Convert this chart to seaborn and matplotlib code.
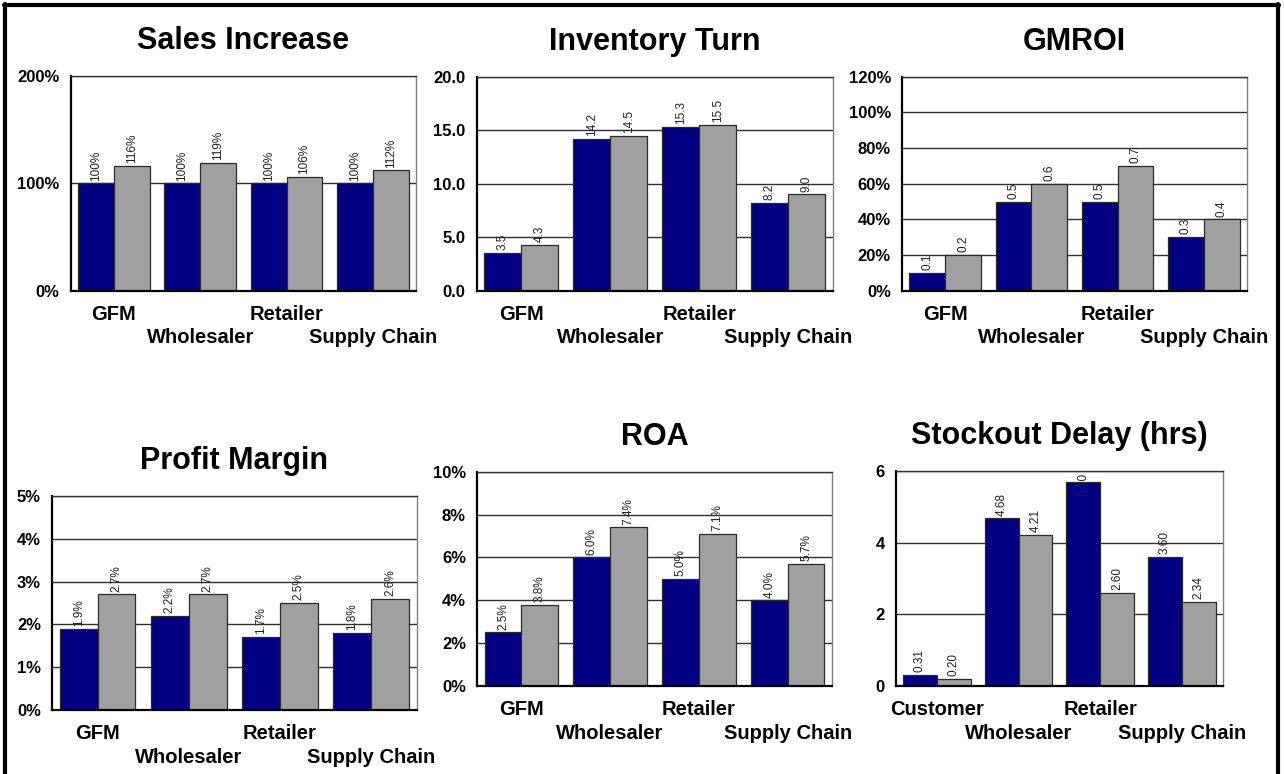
import matplotlib
matplotlib.use("Agg")
import matplotlib.pyplot as plt
from matplotlib.lines import Line2D
from matplotlib.ticker import FuncFormatter, MultipleLocator
import numpy as np
import pandas as pd
import seaborn as sns

sns.set_theme(style="white")
plt.rcParams["font.family"] = ["Liberation Sans", "DejaVu Sans"]

# ---- data -------------------------------------------------------------
stages = ["GFM", "Wholesaler", "Retailer", "Supply Chain"]
stages_delay = ["Customer", "Wholesaler", "Retailer", "Supply Chain"]
scenarios = ["Before", "After"]

sales_before = [100, 100, 100, 100]
sales_after = [116, 119, 106, 112]

turn_before = [3.5, 14.2, 15.3, 8.2]
turn_after = [4.3, 14.5, 15.5, 9.0]

gmroi_before = [0.1, 0.5, 0.5, 0.3]
gmroi_after = [0.2, 0.6, 0.7, 0.4]

margin_before = [1.9, 2.2, 1.7, 1.8]
margin_after = [2.7, 2.7, 2.5, 2.6]

roa_before = [2.5, 6.0, 5.0, 4.0]
roa_after = [3.8, 7.4, 7.1, 5.7]

delay_before = [0.31, 4.68, 5.70, 3.60]
delay_after = [0.20, 4.21, 2.60, 2.34]

# ---- styling ------------------------------------------------------------
W, H = 1284, 774
NAVY = "#000080"
GREY = "#A0A0A0"
EDGE = "#2a2a2a"

panels = [
    dict(title="Sales Increase", cats=stages, b=sales_before, a=sales_after,
         ylim=(0, 200), step=100, tick_fmt=lambda v: f"{v:.0f}%",
         lab_fmt=lambda v: f"{v:.0f}%", box=(70.7, 76, 416, 290.7)),
    dict(title="Inventory Turn", cats=stages, b=turn_before, a=turn_after,
         ylim=(0, 20), step=5, tick_fmt=lambda v: f"{v:.1f}",
         lab_fmt=lambda v: f"{v:.1f}", box=(476.7, 76.7, 832.7, 290.7)),
    dict(title="GMROI", cats=stages, b=gmroi_before, a=gmroi_after,
         ylim=(0, 1.2), step=0.2, tick_fmt=lambda v: f"{v * 100:.0f}%",
         lab_fmt=lambda v: f"{v:.1f}", box=(902, 76.7, 1247, 290.7)),
    dict(title="Profit Margin", cats=stages, b=margin_before, a=margin_after,
         ylim=(0, 5), step=1, tick_fmt=lambda v: f"{v:.0f}%",
         lab_fmt=lambda v: f"{v:.1f}%", box=(52, 496, 416.7, 710)),
    dict(title="ROA", cats=stages, b=roa_before, a=roa_after,
         ylim=(0, 10), step=2, tick_fmt=lambda v: f"{v:.0f}%",
         lab_fmt=lambda v: f"{v:.1f}%", box=(477, 471.7, 832, 686)),
    dict(title="Stockout Delay (hrs)", cats=stages_delay, b=delay_before,
         a=delay_after, ylim=(0, 6), step=2, tick_fmt=lambda v: f"{v:.0f}",
         lab_fmt=lambda v: f"{v:.2f}", box=(896, 471, 1222.7, 686)),
]

fig = plt.figure(figsize=(W / 100, H / 100), dpi=100)
fig.patch.set_facecolor("white")

label_texts = []
for p in panels:
    x0, y0, x1, y1 = p["box"]
    ax = fig.add_axes([x0 / W, 1 - y1 / H, (x1 - x0) / W, (y1 - y0) / H])

    df = pd.DataFrame({
        "stage": p["cats"] * 2,
        "scenario": [scenarios[0]] * 4 + [scenarios[1]] * 4,
        "value": list(p["b"]) + list(p["a"]),
    })
    sns.barplot(data=df, x="stage", y="value", hue="scenario",
                order=p["cats"], hue_order=scenarios,
                palette=[NAVY, GREY], width=0.83, saturation=1,
                edgecolor=EDGE, linewidth=0.9, legend=False, ax=ax, zorder=3)

    ax.set_xlim(-0.5, 3.5)
    ax.set_ylim(*p["ylim"])
    ax.yaxis.set_major_locator(MultipleLocator(p["step"]))
    ax.yaxis.set_major_formatter(FuncFormatter(lambda v, _, f=p["tick_fmt"]: f(v)))
    ax.grid(axis="y", color="#303030", linewidth=1.0, zorder=0)
    ax.set_axisbelow(True)
    ax.set_xlabel("")
    ax.set_ylabel("")

    # staggered category labels: every second one sits on a lower row
    ax.set_xticks(range(4), labels=[""] * 4)
    ax.tick_params(axis="x", length=0)
    for i, c in enumerate(p["cats"]):
        drop = 21.1 if i % 2 == 0 else 37.9
        ax.annotate(c, xy=(i, 0), xycoords=ax.get_xaxis_transform(),
                    xytext=(0, -drop), textcoords="offset points",
                    ha="center", va="baseline", fontsize=14.5,
                    fontweight="bold", color="black")

    ax.tick_params(axis="y", length=0, pad=8, labelsize=12)
    for t in ax.get_yticklabels():
        t.set_fontweight("bold")
        t.set_color("black")

    for side in ("left", "bottom"):
        ax.spines[side].set_color("black")
        ax.spines[side].set_linewidth(1.6)
    ax.spines["top"].set_color("#333333")
    ax.spines["top"].set_linewidth(1.0)
    ax.spines["right"].set_color("#808080")
    ax.spines["right"].set_linewidth(1.0)
    for s in ax.spines.values():
        s.set_zorder(5)

    ax.set_title(p["title"], fontsize=22, fontweight="bold", pad=19.5,
                 color="black")

    for cont, vals in zip(ax.containers, (p["b"], p["a"])):
        anns = ax.bar_label(cont, labels=[p["lab_fmt"](v) for v in vals],
                            rotation=90, padding=2, fontsize=8.5,
                            color="#202020")
        label_texts.extend((ax, a) for a in anns)

# keep value labels inside the plotting area
fig.canvas.draw()
renderer = fig.canvas.get_renderer()
for ax, ann in label_texts:
    top = ax.get_window_extent(renderer).y1
    if ann.get_window_extent(renderer).y1 > top:
        x = ann.xy[0]
        ann.xy = (x, ax.get_ylim()[1])
        ann.xyann = (0, -1)
        ann.set_va("top")

# outer frame
lw = 3.0
fig.add_artist(Line2D([5 / W, 5 / W], [0, 1 - 4 / H], color="black", lw=lw))
fig.add_artist(Line2D([4 / W, 1279 / W], [1 - 5 / H, 1 - 5 / H], color="black", lw=lw))
fig.add_artist(Line2D([1278 / W, 1278 / W], [0, 1 - 4 / H], color="black", lw=lw))

fig.savefig("out.png", dpi=100, facecolor="white")
